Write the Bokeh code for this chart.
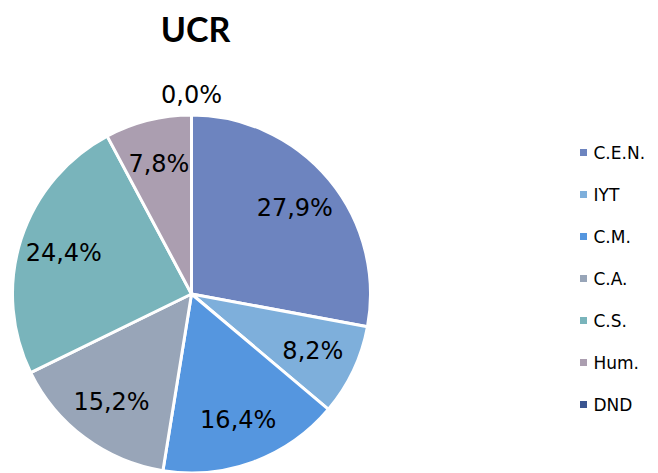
import math
from bokeh.plotting import figure
from bokeh.models import Range1d, ColumnDataSource
from bokeh.core.properties import value
from bokeh.embed import file_html
from bokeh.resources import INLINE

# ---- data ----
categories = ["C.E.N.", "IYT", "C.M.", "C.A.", "C.S.", "Hum.", "DND"]
percents = [27.9, 8.2, 16.4, 15.2, 24.4, 7.8, 0.0]
labels = ["27,9%", "8,2%", "16,4%", "15,2%", "24,4%", "7,8%", "0,0%"]
colors = ["#6d84bf", "#7eafdb", "#5596df", "#98a5b8", "#79b4bb", "#ab9eb0", "#3a5590"]
title_text = "UCR"

# ---- layout (plot units == pixels, y up) ----
W, H = 656, 472
cx, cy, r = 191.0, 178.5, 179.0

total = sum(percents)
starts, ends, lx, ly = [], [], [], []
cum = 0.0
for v in percents:
    a0 = math.pi / 2 - 2 * math.pi * cum / total
    cum += v
    a1 = math.pi / 2 - 2 * math.pi * cum / total
    starts.append(a0)
    ends.append(a1)
    mid = (a0 + a1) / 2
    f = 0.75 if v > 0 else 1.11
    lx.append(cx + f * r * math.cos(mid))
    ly.append(cy + f * r * math.sin(mid))

nz = [i for i, v in enumerate(percents) if v > 0]
wsrc = ColumnDataSource(dict(start=[starts[i] for i in nz], end=[ends[i] for i in nz],
                             color=[colors[i] for i in nz]))
lsrc = ColumnDataSource(dict(lx=lx, ly=ly, lab=labels))

p = figure(width=W, height=H, output_backend="svg", toolbar_location=None,
           x_range=Range1d(0, W), y_range=Range1d(0, H), min_border=0,
           outline_line_color=None)
p.axis.visible = False
p.grid.visible = False
p.background_fill_color = "white"
p.border_fill_color = "white"

p.wedge(x=cx, y=cy, radius=r, start_angle="start", end_angle="end",
        direction="clock", fill_color="color", line_color="white",
        line_width=3, source=wsrc)

p.text(x="lx", y="ly", text="lab", source=lsrc, text_align="center",
       text_baseline="middle", text_font=value("DejaVu Sans"),
       text_font_size="24px", text_color="#000000")

# title
p.text(x=[195], y=[444], text=[title_text], text_align="center",
       text_baseline="middle", text_font=value("Lato"),
       text_font_style="bold", text_font_size="34px", text_color="#000000")

# legend
leg_y = [320 - 42 * i for i in range(len(categories))]
leg = ColumnDataSource(dict(x=[583] * len(categories), tx=[593] * len(categories),
                            y=leg_y, cat=categories, color=colors))
p.scatter(x="x", y="y", marker="square", size=7, fill_color="color",
          line_color=None, source=leg)
p.text(x="tx", y="y", text="cat", source=leg, text_baseline="middle",
       text_font=value("DejaVu Sans"), text_font_size="17px", text_color="#000000")

open("out.html", "w").write(file_html(p, INLINE))
